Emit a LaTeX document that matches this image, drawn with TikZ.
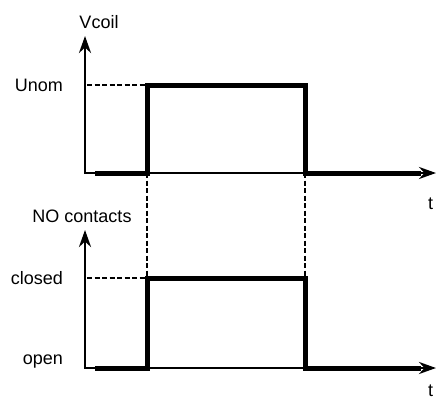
\documentclass[tikz,border=0pt]{standalone}
\usepackage{fontspec}
\setmainfont{Liberation Sans}
\usetikzlibrary{arrows.meta}
\begin{document}
\begin{tikzpicture}[x=1pt,y=-1pt]

\def\axx{85}
\def\ton{147}
\def\toff{305}
\def\tend{436}

\tikzset{axis/.style = {line width=2.7pt, {Stealth[length=17pt,width=12pt]}-{Stealth[length=17pt,width=12pt]}}}
\tikzset{signal/.style = {line width=5pt, line join=miter}}
\tikzset{guide/.style = {line width=1.5pt, dash pattern=on 5pt off 2.5pt}}
\tikzset{lbl/.style = {inner sep=0pt, font=\fontsize{18}{20}\selectfont}}

\useasboundingbox (0,0) rectangle (436,399);

% Vcoil
\coordinate (O1) at (\axx,173);
\coordinate (Y1) at (\axx,36);
\coordinate (X1) at (\tend,173);
\draw[axis] (Y1) -- (O1) -- (X1);

\coordinate (S1a) at (95,173);
\coordinate (S1b) at (\ton,173);
\coordinate (S1c) at (\ton,85);
\coordinate (S1d) at (\toff,85);
\coordinate (S1e) at (\toff,173);
\coordinate (S1f) at (421,173);
\draw[signal] (S1a) -- (S1b) -- (S1c) -- (S1d) -- (S1e) -- (S1f);

\coordinate (U1) at (\axx+2,85);
\draw[guide] (U1) -- (S1c);

\node[lbl, anchor=base] (vcoil) at (99,28) {Vcoil};
\node[lbl, anchor=base east] (unom) at (63,91) {Unom};
\node[lbl, anchor=base west] (t1) at (428,209) {t};

% NO contacts
\coordinate (O2) at (\axx,368);
\coordinate (Y2) at (\axx,230);
\coordinate (X2) at (\tend,368);
\draw[axis] (Y2) -- (O2) -- (X2);

\coordinate (S2a) at (95,368);
\coordinate (S2b) at (\ton,368);
\coordinate (S2c) at (\ton,278);
\coordinate (S2d) at (\toff,278);
\coordinate (S2e) at (\toff,368);
\coordinate (S2f) at (421,368);
\draw[signal] (S2a) -- (S2b) -- (S2c) -- (S2d) -- (S2e) -- (S2f);

\coordinate (U2) at (\axx+2,278);
\draw[guide] (U2) -- (S2c);

\node[lbl, anchor=base] (nocont) at (82,222) {NO contacts};
\node[lbl, anchor=base east] (closed) at (63,284) {closed};
\node[lbl, anchor=base east] (open) at (63,364) {open};
\node[lbl, anchor=base west] (t2) at (428,396) {t};

% on / off
\draw[guide, line width=1.3pt] (S1b) -- (S2c);
\draw[guide, line width=1.3pt] (S1e) -- (S2d);

\end{tikzpicture}
\end{document}
